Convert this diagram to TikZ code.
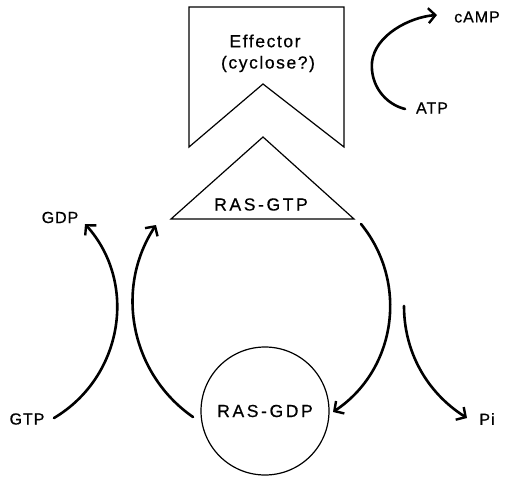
\documentclass[tikz,border=0pt]{standalone}
\usepackage{fontspec}
\setmainfont{Liberation Sans}
\newfontfamily\efffont{Liberation Sans}[LetterSpace=9,FakeBold=0.6]
\newfontfamily\rasfont{Liberation Sans}[LetterSpace=15,FakeBold=0.6]
\newfontfamily\lblfont{Liberation Sans}[LetterSpace=6,FakeBold=0.6]
\usetikzlibrary{arrows.meta}
\tikzset{
  outline/.style={line width=1.2pt, line join=miter},
  efftext/.style={inner sep=0pt, font=\efffont\fontsize{17.5}{20}\selectfont},
  rastext/.style={inner sep=0pt, font=\rasfont\fontsize{17.5}{20}\selectfont},
  lbl/.style={inner sep=0pt, font=\lblfont\fontsize{16}{19}\selectfont},
  flow/.style={line width=2.6pt, line cap=round, -{Straight Barb[length=7pt,width=15pt,line width=2.4pt]}}
}
\begin{document}
\begin{tikzpicture}[x=1pt,y=-1pt]
\useasboundingbox (0,0) rectangle (508,476);
% effector
\draw[outline] (189,7) -- (344,7) -- (344,147) -- (263,84) -- (189,147) -- cycle;
\node[efftext] (eff1) at (265,41) {Effector};
\node[efftext] (eff2) at (268,64) {(cyclose?)};
% triangle RAS-GTP
\draw[outline] (263,137) -- (354,219) -- (171,219) -- cycle;
\node[rastext] (rasgtp) at (261,204.5) {RAS-GTP};
% circle RAS-GDP
\node[outline, draw, circle, minimum size=128pt, inner sep=0pt] (circ) at (265,411) {};
\node[rastext] (rasgdp) at (265,411) {RAS-GDP};
% labels
\node[lbl] (gdp) at (60,217.5) {GDP};
\node[lbl] (gtp) at (27,419) {GTP};
\node[lbl] (pi) at (487,419) {Pi};
\node[lbl] (camp) at (477,17) {cAMP};
\node[lbl] (atp) at (432,108) {ATP};
% connector ends
\coordinate (gtpout) at (54,418);
\coordinate (gdpin) at (85,224);
\coordinate (circout) at (193,417);
\coordinate (trin) at (156,225);
\coordinate (trout) at (361,224);
\coordinate (circin) at (333,412);
\coordinate (piout) at (404,306);
\coordinate (piin) at (467,418);
\coordinate (atpout) at (405,109);
\coordinate (cmid) at (372,62);
\coordinate (campin) at (437,15);
% arrows
\draw[flow] (gtpout) .. controls (123,377) and (138,283) .. (gdpin);
\draw[flow] (circout) .. controls (131,374) and (114,289) .. (trin);
\draw[flow] (trout) .. controls (409,283) and (396,370) .. (circin);
\draw[flow] (piout) .. controls (404,351) and (426,392) .. (piin);
\draw[flow] (atpout) .. controls (385,104) and (370,85) .. (cmid) .. controls (375,35) and (410,17) .. (campin);
\end{tikzpicture}
\end{document}
